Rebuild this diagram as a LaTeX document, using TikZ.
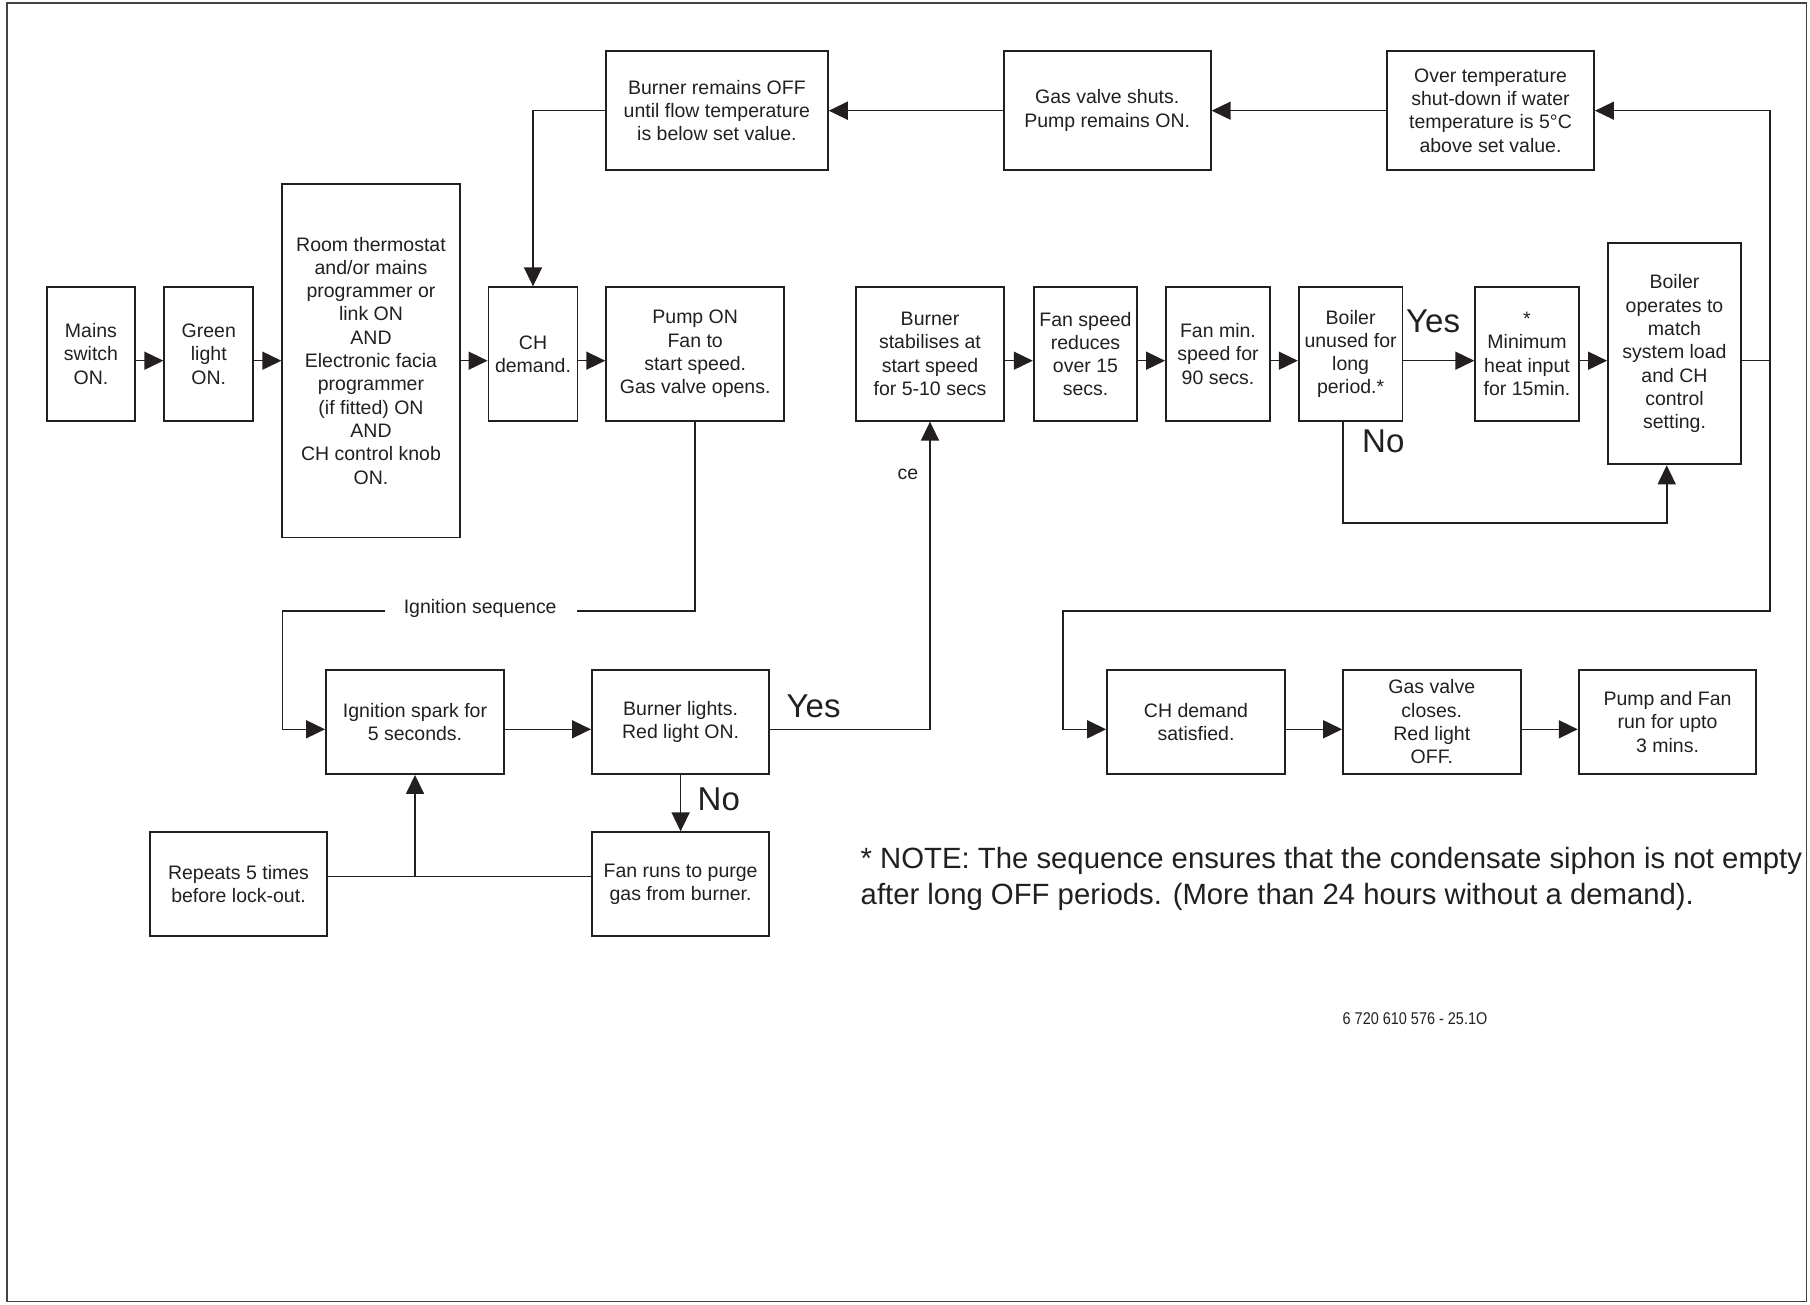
\documentclass[tikz,border=0pt]{standalone}
\usepackage{fontspec}
\setmainfont{Liberation Sans}
\usetikzlibrary{arrows.meta}
\definecolor{ink}{RGB}{35,31,32}
\newcommand\boxfont{\fontsize{19.5}{23.3}\selectfont}
\newcommand\ynfont{\fontsize{33}{36}\selectfont}
\newcommand\notefont{\fontsize{29.3}{36}\selectfont}
\newcommand\codefont{\fontsize{17}{20}\selectfont}
\begin{document}
\begin{tikzpicture}[x=1pt,y=-1pt,
  box/.style={draw=ink, line width=1.9pt, inner sep=0pt, align=center, font=\boxfont, text=ink,
    execute at begin node={\rule{0pt}{19.5pt}}},
  conn/.style={draw=ink, line width=1.6pt, line join=miter},
  arr/.style={conn, -{Triangle[length=19pt,width=18pt]}},
  lbl/.style={font=\boxfont, text=ink, inner sep=0pt},
  yn/.style={font=\ynfont, text=ink, inner sep=0pt, anchor=base west},
  notetext/.style={font=\notefont, text=ink, inner sep=0pt, anchor=base west}]
\useasboundingbox (0,0) rectangle (1810,1305);
\draw[draw=ink!85, line width=1.8pt] (7.3,3) rectangle (1806.5,1301.5);

% row coordinates
\coordinate (yTop) at (0,110.7);
\coordinate (yMid) at (0,360.7);
\coordinate (yBot) at (0,729.3);
\coordinate (yRep) at (0,876.3);

% boxes
\node[box, minimum width=88.6pt, minimum height=133.4pt] (mains) at (91,354) {Mains\\switch\\ON.};
\node[box, minimum width=89pt, minimum height=133.4pt] (green) at (208.8,354) {Green\\light\\ON.};
\node[box, minimum width=177.4pt, minimum height=353.8pt] (room) at (371,360.6) {Room thermostat\\and/or mains\\programmer or\\link ON\\AND\\Electronic facia\\programmer\\(if fitted) ON\\AND\\CH control knob\\ON.};
\node[box, minimum width=89pt, minimum height=133.4pt] (chd) at (533,354) {CH\\demand.};
\node[box, minimum width=178pt, minimum height=133.4pt] (pump) at (695.2,354) {Pump ON\\Fan to\\start speed.\\Gas valve opens.};
\node[box, minimum width=221.8pt, minimum height=119pt] (boff) at (716.9,110.5) {Burner remains OFF\\until flow temperature\\is below set value.};
\node[box, minimum width=207pt, minimum height=119pt] (gshut) at (1107.2,110.5) {Gas valve shuts.\\Pump remains ON.};
\node[box, minimum width=207pt, minimum height=119pt] (otemp) at (1490.5,110.5) {Over temperature\\shut-down if water\\temperature is 5°C\\above set value.};
\node[box, minimum width=148pt, minimum height=133.4pt] (bstab) at (930,354) {Burner\\stabilises at\\start speed\\for 5-10 secs};
\node[box, minimum width=103.5pt, minimum height=133.4pt] (fspd) at (1085.5,354) {Fan speed\\reduces\\over 15\\secs.};
\node[box, minimum width=104pt, minimum height=133.4pt] (fmin) at (1218,354) {Fan min.\\speed for\\90 secs.};
\node[box, minimum width=103.7pt, minimum height=133.4pt] (unused) at (1350.6,354) {Boiler\\unused for\\long\\period.*};
\node[box, minimum width=103.5pt, minimum height=133.4pt] (minh) at (1527,354) {*\\Minimum\\heat input\\for 15min.};
\node[box, minimum width=133pt, minimum height=221.3pt] (bop) at (1674.5,353.7) {Boiler\\operates to\\match\\system load\\and CH\\control\\setting.};
\node[box, minimum width=178pt, minimum height=104pt] (spark) at (415,722) {Ignition spark for\\5 seconds.};
\node[box, minimum width=177.3pt, minimum height=104pt] (blight) at (680.6,722) {Burner lights.\\Red light ON.};
\node[box, minimum width=177.4pt, minimum height=103.7pt] (rep) at (238.5,884.2) {Repeats 5 times\\before lock-out.};
\node[box, minimum width=177.3pt, minimum height=103.7pt] (frun) at (680.6,884.2) {Fan runs to purge\\gas from burner.};
\node[box, minimum width=177.8pt, minimum height=103.6pt] (chsat) at (1196,721.8) {CH demand\\satisfied.};
\node[box, minimum width=177.5pt, minimum height=103.6pt] (gvc) at (1431.8,721.8) {Gas valve\\closes.\\Red light\\OFF.};
\node[box, minimum width=177.6pt, minimum height=103.6pt] (pf) at (1667.5,721.8) {Pump and Fan\\run for upto\\3 mins.};

% labels
\node[lbl, anchor=base] (ign) at (480.2,613) {Ignition sequence};
\node[lbl] (ce) at (908,474) {ce};
\node[yn] (yes1) at (786.5,717) {Yes};
\node[yn] (no1) at (697.5,810) {No};
\node[yn] (yes2) at (1406,333) {Yes};
\node[yn] (no2) at (1362,452) {No};
\node[notetext] (note1) at (860.5,868) {* NOTE: The sequence ensures that the condensate siphon is not empty};
\node[notetext] (note2) at (860.5,904) {after long OFF periods. (More than 24 hours without a demand).};
\node[font=\codefont, text=ink, inner sep=0pt] (code) at (1415,1019) {\scalebox{0.85}[1]{6 720 610 576 - 25.1O}};

% helper coordinates
\coordinate (gapR) at (577,610.7);
\coordinate (gapL) at (384.6,610.7);
\coordinate (ignL) at (282.4,610.7);
\coordinate (noX) at (1342.7,522.7);
\coordinate (noR) at (1666.7,522.7);
\coordinate (rTop) at (1769.8,110.7);
\coordinate (rMid) at (1769.8,360.7);
\coordinate (rIgn) at (1769.8,610.7);
\coordinate (lIgn) at (1063,610.7);

% connectors
\draw[arr] (mains.east |- yMid) -- (green.west |- yMid);
\draw[arr] (green.east |- yMid) -- (room.west |- yMid);
\draw[arr] (room.east |- yMid) -- (chd.west |- yMid);
\draw[arr] (chd.east |- yMid) -- (pump.west |- yMid);
\draw[conn] (pump.south) |- (gapR);
\draw[arr] (gapL) -- (ignL) |- (spark.west |- yBot);
\draw[arr] (spark.east |- yBot) -- (blight.west |- yBot);
\draw[arr] (blight.east |- yBot) -| (bstab.south);
\draw[arr] (blight.south) -- (frun.north);
\draw[conn] (frun.west |- yRep) -- (rep.east |- yRep);
\draw[arr] (spark.south |- yRep) -- (spark.south);
\draw[arr] (bstab.east |- yMid) -- (fspd.west |- yMid);
\draw[arr] (fspd.east |- yMid) -- (fmin.west |- yMid);
\draw[arr] (fmin.east |- yMid) -- (unused.west |- yMid);
\draw[arr] (unused.east |- yMid) -- (minh.west |- yMid);
\draw[arr] (minh.east |- yMid) -- (bop.west |- yMid);
\draw[arr] (unused.south -| noX) -- (noX) -- (noR) -- (bop.south -| noR);
\draw[arr] (bop.east |- yMid) -- (rMid) -- (rTop) -- (otemp.east |- yTop);
\draw[arr] (rMid) -- (rIgn) -- (lIgn) |- (chsat.west |- yBot);
\draw[arr] (otemp.west |- yTop) -- (gshut.east |- yTop);
\draw[arr] (gshut.west |- yTop) -- (boff.east |- yTop);
\draw[arr] (boff.west |- yTop) -| (chd.north);
\draw[arr] (chsat.east |- yBot) -- (gvc.west |- yBot);
\draw[arr] (gvc.east |- yBot) -- (pf.west |- yBot);
\end{tikzpicture}
\end{document}
